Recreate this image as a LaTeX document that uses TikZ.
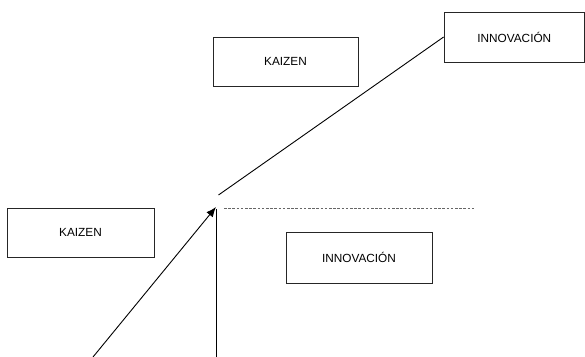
\documentclass[tikz,border=0pt]{standalone}
\usepackage{fontspec}
\setmainfont{Liberation Sans}
\usetikzlibrary{arrows.meta}
\begin{document}
\begin{tikzpicture}[x=1pt,y=-1pt,
  box/.style={draw=black!85,line width=0.9pt,inner sep=0pt,font=\fontsize{11.8}{13}\selectfont},
  link/.style={draw=black,line width=0.9pt},
  guide/.style={draw=black!60,line width=1pt,dash pattern=on 2.6pt off 1.6pt},
  tip/.style={-{Latex[length=10pt,width=8pt]}}]
\useasboundingbox (0,0) rectangle (585,356);
% boxes
\node[box,minimum width=147pt,minimum height=49pt] (k1) at (80.5,232.5) {KAIZEN};
\node[box,minimum width=145pt,minimum height=49pt] (k2) at (285.5,61.5) {KAIZEN};
\node[box,minimum width=146pt,minimum height=51pt] (i1) at (359,257.5) {INNOVACIÓN};
\node[box,minimum width=140.5pt,minimum height=50pt] (i2) at (514.3,37) {INNOVACIÓN};
% free line ends
\coordinate (d0) at (93,357);
\coordinate (v0) at (216.5,357);
\coordinate (tp) at (216,207);
\coordinate (vt) at (216.5,209);
\coordinate (up) at (218.5,195);
\coordinate (h0) at (224,208);
\coordinate (h1) at (474,208);
% connectors
\draw[link,tip] (d0) -- (tp);
\draw[link] (v0) -- (vt);
\draw[link] (up) -- (i2.west);
\draw[guide] (h0) -- (h1);
\end{tikzpicture}
\end{document}
